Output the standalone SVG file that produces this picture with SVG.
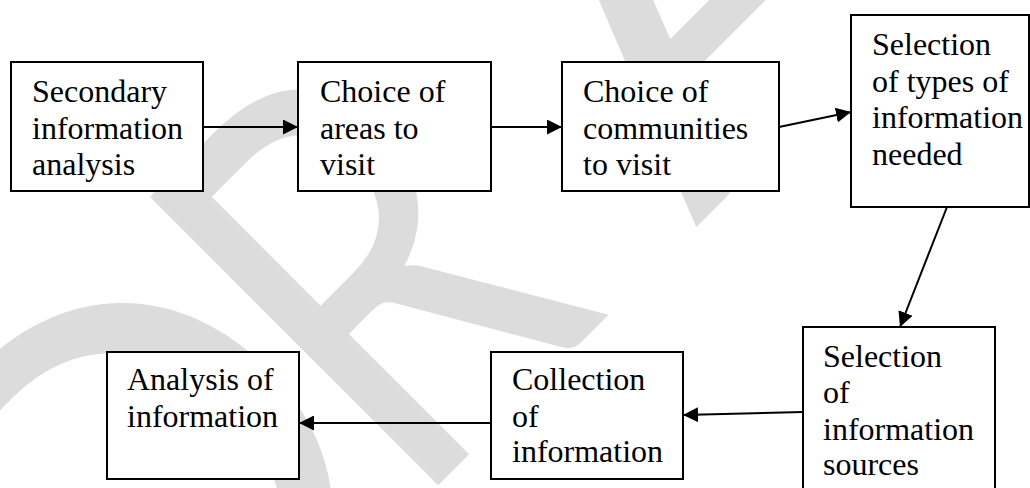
<svg xmlns="http://www.w3.org/2000/svg" width="1030" height="488" viewBox="0 0 1030 488">
<defs>
<style>
.wm{font-family:Lato,"Open Sans",sans-serif;font-size:569px;fill:#dcdcdc;}
.box{fill:#ffffff;stroke:#000;stroke-width:2;}
.lbl{font-family:"Liberation Serif","Times New Roman",serif;font-size:32px;fill:#000;}
.con{stroke:#000;stroke-width:2;fill:none;marker-end:url(#ah);}
</style>
<marker id="ah" viewBox="0 0 10 10" refX="10" refY="5" markerWidth="7.5" markerHeight="7.5" markerUnits="strokeWidth" orient="auto">
<path d="M0,0 L10,5 L0,10 z" fill="#000"/>
</marker>
</defs>
<rect width="1030" height="488" fill="#fff"/>
<g id="watermark" transform="rotate(-45)">
<text class="wm" x="-477" y="653">D</text>
<text class="wm" transform="translate(-75,653) scale(0.8,1)" x="0" y="0">R</text>
<text class="wm" x="330" y="653">A</text>
<text class="wm" x="717" y="653">F</text>
<text class="wm" x="1024" y="653">T</text>
</g>
<g id="connectors">
<line class="con" x1="203" y1="127" x2="298" y2="127"/>
<line class="con" x1="491" y1="127" x2="562" y2="127"/>
<line class="con" x1="779" y1="127" x2="851" y2="112"/>
<line class="con" x1="947" y1="207" x2="900" y2="327"/>
<line class="con" x1="803" y1="412" x2="683" y2="415"/>
<line class="con" x1="491" y1="423" x2="299" y2="423"/>
</g>
<g id="n1"><rect class="box" x="11" y="62" width="192" height="129"/>
<text class="lbl"><tspan x="32" y="102">Secondary</tspan><tspan x="32" y="139">information</tspan><tspan x="32" y="175">analysis</tspan></text></g>
<g id="n2"><rect class="box" x="298" y="62" width="193" height="129"/>
<text class="lbl"><tspan x="320" y="102">Choice of</tspan><tspan x="320" y="139">areas to</tspan><tspan x="320" y="175">visit</tspan></text></g>
<g id="n3"><rect class="box" x="562" y="62" width="217" height="129"/>
<text class="lbl"><tspan x="583" y="102">Choice of</tspan><tspan x="583" y="139">communities</tspan><tspan x="583" y="175">to visit</tspan></text></g>
<g id="n4"><rect class="box" x="851" y="15" width="178" height="192"/>
<text class="lbl"><tspan x="872" y="55">Selection</tspan><tspan x="872" y="92">of types of</tspan><tspan x="872" y="128">information</tspan><tspan x="872" y="165">needed</tspan></text></g>
<g id="n5"><rect class="box" x="803" y="327" width="192" height="170"/>
<text class="lbl"><tspan x="823" y="367">Selection</tspan><tspan x="823" y="403">of</tspan><tspan x="823" y="440">information</tspan><tspan x="823" y="475">sources</tspan></text></g>
<g id="n6"><rect class="box" x="491" y="352" width="192" height="127"/>
<text class="lbl"><tspan x="512" y="390">Collection</tspan><tspan x="512" y="427">of</tspan><tspan x="512" y="462">information</tspan></text></g>
<g id="n7"><rect class="box" x="107" y="352" width="192" height="127"/>
<text class="lbl"><tspan x="127" y="390">Analysis of</tspan><tspan x="127" y="427">information</tspan></text></g>
</svg>
